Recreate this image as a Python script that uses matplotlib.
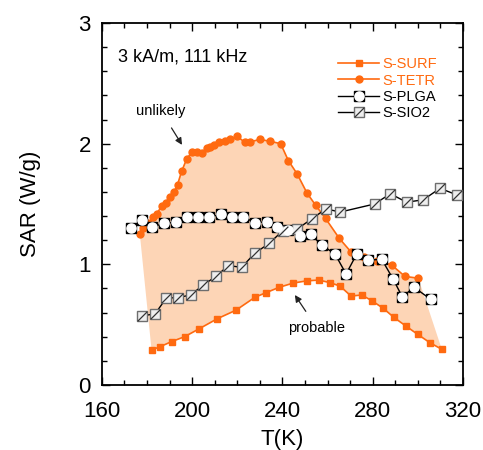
import numpy as np
import matplotlib
matplotlib.use('Agg')
import matplotlib.pyplot as plt
from matplotlib.path import Path
from matplotlib.legend_handler import HandlerTuple

plt.rcParams['font.family'] = ['Liberation Sans', 'DejaVu Sans']

##----------------------- data -----------------------##
surf_T = [182.0, 185.7, 190.9, 196.6, 202.9, 211.2, 219.4, 227.8, 232.7, 238.6, 244.8, 250.7,
          256.1, 261.1, 265.5, 270.4, 275.1, 279.5, 284.7, 289.4, 294.6, 299.9, 305.4, 310.6]
surf_sar = [0.29, 0.317, 0.36, 0.40, 0.464, 0.55, 0.62, 0.727, 0.765, 0.81, 0.845, 0.863,
            0.87, 0.848, 0.82, 0.737, 0.746, 0.70, 0.635, 0.56, 0.49, 0.42, 0.35, 0.296]

tetr_T = [176.8, 178.3, 180.5, 182.7, 184.2, 186.5, 188.2, 190.1, 192.0, 193.5, 195.3, 197.5,
          199.8, 202.0, 204.2, 206.4, 208.0, 209.8, 211.9, 214.5, 216.7, 220.0, 223.4, 225.6,
          230.0, 234.5, 239.2, 242.6, 246.5, 250.9, 254.7, 259.1, 265.2, 270.5, 276.0, 282.0,
          288.4, 294.3, 300.2]
tetr_sar = [1.25, 1.30, 1.34, 1.39, 1.42, 1.48, 1.51, 1.56, 1.60, 1.66, 1.77, 1.87,
            1.93, 1.93, 1.925, 1.96, 1.97, 1.99, 2.01, 2.02, 2.035, 2.06, 2.01, 2.015,
            2.035, 2.02, 2.0, 1.86, 1.75, 1.59, 1.49, 1.38, 1.215, 1.10, 1.06, 1.03,
            0.994, 0.90, 0.885]

plga_T = [172.9, 177.6, 182.3, 187.6, 192.7, 197.5, 202.7, 207.4, 212.7, 217.8, 222.6, 227.8,
          233.0, 237.7, 242.6, 247.8, 252.5, 257.4, 263.3, 268.2, 272.9, 278.0, 284.0, 289.1,
          293.1, 298.3, 305.7]
plga_sar = [1.30, 1.367, 1.31, 1.34, 1.348, 1.395, 1.39, 1.39, 1.414, 1.395, 1.394, 1.345,
            1.353, 1.31, 1.284, 1.234, 1.25, 1.16, 1.085, 0.92, 1.085, 1.036, 1.041, 0.876,
            0.73, 0.81, 0.71]

sio2_T = [177.8, 183.5, 188.5, 193.8, 199.3, 205.0, 210.5, 216.0, 221.9, 227.8, 234.2, 240.2,
          246.3, 253.0, 259.3, 265.5, 280.8, 287.8, 295.0, 302.4, 309.8, 317.5]
sio2_sar = [0.575, 0.588, 0.72, 0.725, 0.746, 0.83, 0.90, 0.99, 0.975, 1.093, 1.175, 1.28,
            1.29, 1.377, 1.46, 1.433, 1.50, 1.585, 1.515, 1.535, 1.63, 1.574]

##----------------------- draw -----------------------##
orange = '#FF6A10'
fig = plt.figure(figsize=(4.83, 4.5), dpi=100)
ax = fig.add_axes([0.211, 0.1444, 0.7476, 0.8045])

# shaded band between TETR and SURF
ax.fill(np.concatenate([tetr_T, surf_T[::-1]]), np.concatenate([tetr_sar, surf_sar[::-1]]),
        color='#FDD5B6', lw=0, zorder=1)

l_surf, = ax.plot(surf_T, surf_sar, color=orange, lw=1.2, marker='s', ms=5, mec=orange, zorder=3)
l_tetr, = ax.plot(tetr_T, tetr_sar, color=orange, lw=1.2, marker='o', ms=5, mec=orange, zorder=3)

# PLGA: black square with white disc
l_plga, = ax.plot(plga_T, plga_sar, color='black', lw=1.0, marker='s', ms=7.5, mfc='black',
                  mec='black', zorder=4)
l_plga2, = ax.plot(plga_T, plga_sar, ls='none', marker='o', ms=6.6, mfc='white', mec='white', zorder=5)

# SIO2: gray square with diagonal slash
slash = Path([(-1, -1), (1, 1)])
l_sio2, = ax.plot(sio2_T, sio2_sar, color='black', lw=1.0, marker='s', ms=7.5, mfc='#EEEEEE',
                  mec='#6E6E6E', mew=1.0, zorder=4)
l_sio22, = ax.plot(sio2_T, sio2_sar, ls='none', marker=slash, ms=7.0, mec='#333333', mew=0.9, zorder=5)

ax.set_xlim(160, 320)
ax.set_ylim(0, 3)
ax.set_xticks([160, 200, 240, 280, 320])
ax.set_yticks([0, 1, 2, 3])
ax.set_xticks(np.arange(160, 321, 10), minor=True)
ax.set_yticks(np.arange(0, 3.01, 0.2), minor=True)
ax.tick_params(which='both', direction='in', top=True, right=True, labelsize=16, width=1.0)
ax.tick_params(which='major', length=6, pad=8)
ax.tick_params(axis='x', which='major', pad=11.5)
ax.tick_params(which='minor', length=3.5)
for s in ax.spines.values():
    s.set_linewidth(1.3)

ax.set_xlabel('T(K)', fontsize=16, labelpad=5)
ax.set_ylabel('SAR (W/g)', fontsize=16, labelpad=27)

ax.text(167, 2.72, '3 kA/m, 111 kHz', fontsize=13, va='center')

ax.annotate('unlikely', xy=(195.5, 1.99), xytext=(186.2, 2.27), fontsize=10.5,
            ha='center', va='center',
            arrowprops=dict(arrowstyle='-|>', color='#222222', lw=0.9, shrinkA=6, shrinkB=0,
                            mutation_scale=10))
ax.annotate('probable', xy=(245.5, 0.746), xytext=(255.3, 0.472), fontsize=10.5,
            ha='center', va='center',
            arrowprops=dict(arrowstyle='-|>', color='#222222', lw=0.9, shrinkA=6, shrinkB=0,
                            mutation_scale=10))

leg = ax.legend([l_surf, l_tetr, (l_plga, l_plga2), (l_sio2, l_sio22)],
                ['S-SURF', 'S-TETR', 'S-PLGA', 'S-SIO2'],
                handler_map={tuple: HandlerTuple(ndivide=1)},
                loc='upper left', bbox_to_anchor=(0.655, 0.905), frameon=False,
                fontsize=10.5, handlelength=2.8, handletextpad=0.2, labelspacing=0.15,
                borderpad=0, borderaxespad=0)
for t, c in zip(leg.get_texts(), [orange, orange, 'black', 'black']):
    t.set_color(c)

plt.savefig('out.png', dpi=100)
print('done')
